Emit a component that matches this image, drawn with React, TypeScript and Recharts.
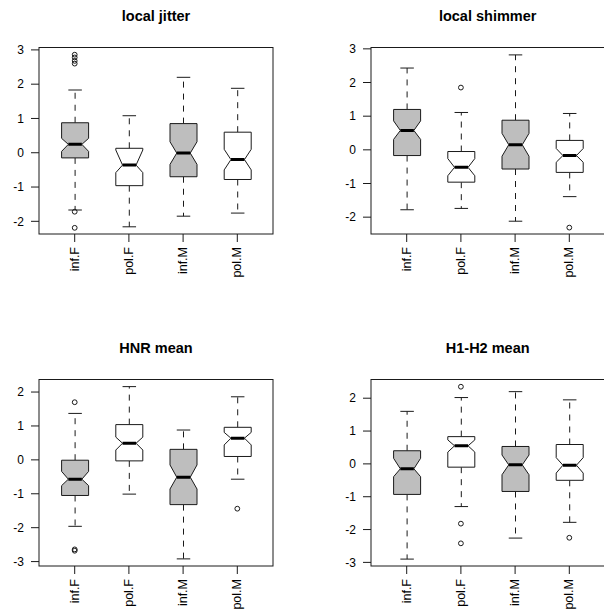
import React from 'react';
import { ComposedChart, Bar, Scatter, XAxis, YAxis } from 'recharts';

const categories = ['inf.F', 'pol.F', 'inf.M', 'pol.M'];
const boxFills = ['#bebebe', '#ffffff', '#bebebe', '#ffffff'];

// ---- local jitter ----
const jitterWhiskerLow = [-1.67, -2.16, -1.85, -1.76];
const jitterQ1 = [-0.15, -0.96, -0.7, -0.78];
const jitterNotchLow = [0.04, -0.58, -0.34, -0.5];
const jitterMedian = [0.245, -0.36, -0.01, -0.2];
const jitterNotchHigh = [0.42, 0.08, 0.32, 0.1];
const jitterQ3 = [0.875, 0.13, 0.85, 0.6];
const jitterWhiskerHigh = [1.83, 1.08, 2.2, 1.88];
const jitterOutliers = [[2.86, 2.78, 2.68, 2.6, -1.72, -2.19], [], [], []];

// ---- local shimmer ----
const shimmerWhiskerLow = [-1.78, -1.74, -2.12, -1.39];
const shimmerQ1 = [-0.17, -0.96, -0.57, -0.67];
const shimmerNotchLow = [0.31, -0.77, -0.19, -0.37];
const shimmerMedian = [0.575, -0.52, 0.15, -0.17];
const shimmerNotchHigh = [0.86, -0.26, 0.49, 0.04];
const shimmerQ3 = [1.2, -0.05, 0.88, 0.28];
const shimmerWhiskerHigh = [2.43, 1.11, 2.82, 1.08];
const shimmerOutliers = [[], [1.85], [], [-2.31]];

// ---- HNR mean ----
const hnrWhiskerLow = [-1.96, -1.01, -2.92, -0.57];
const hnrQ1 = [-1.05, -0.03, -1.32, 0.1];
const hnrNotchLow = [-0.76, 0.29, -0.86, 0.44];
const hnrMedian = [-0.57, 0.49, -0.51, 0.64];
const hnrNotchHigh = [-0.34, 0.67, -0.15, 0.81];
const hnrQ3 = [-0.01, 1.04, 0.31, 0.96];
const hnrWhiskerHigh = [1.37, 2.16, 0.88, 1.86];
const hnrOutliers = [[1.7, -2.64, -2.68], [], [], [-1.44]];

// ---- H1-H2 mean ----
const h1h2WhiskerLow = [-2.9, -1.3, -2.26, -1.78];
const h1h2Q1 = [-0.93, -0.1, -0.84, -0.5];
const h1h2NotchLow = [-0.39, 0.36, -0.33, -0.28];
const h1h2Median = [-0.15, 0.55, -0.03, -0.04];
const h1h2NotchHigh = [0.17, 0.73, 0.27, 0.19];
const h1h2Q3 = [0.4, 0.83, 0.53, 0.59];
const h1h2WhiskerHigh = [1.6, 2.02, 2.2, 1.95];
const h1h2Outliers = [[], [2.35, -1.82, -2.42], [], [-2.25]];

const yTicksTop = [-2, -1, 0, 1, 2, 3];
const yTicksBottom = [-3, -2, -1, 0, 1, 2];

const OUT_KEYS = ['o0', 'o1', 'o2', 'o3', 'o4', 'o5'];

function buildRows(
  wLo: number[], q1: number[], nLo: number[], med: number[],
  nHi: number[], q3: number[], wHi: number[], out: number[][]
) {
  return categories.map((name, i) => {
    const row: any = {
      name, wLo: wLo[i], q1: q1[i], nLo: nLo[i], med: med[i],
      nHi: nHi[i], q3: q3[i], wHi: wHi[i], fill: boxFills[i],
    };
    OUT_KEYS.forEach((k, j) => {
      row[k] = out[i][j] !== undefined ? out[i][j] : null;
    });
    return row;
  });
}

const panels = [
  {
    title: 'local jitter', left: 0, top: 0, domain: [-2.37, 3.07], ticks: yTicksTop,
    rows: buildRows(jitterWhiskerLow, jitterQ1, jitterNotchLow, jitterMedian, jitterNotchHigh, jitterQ3, jitterWhiskerHigh, jitterOutliers),
  },
  {
    title: 'local shimmer', left: 331.7, top: 0, domain: [-2.5, 3.04], ticks: yTicksTop,
    rows: buildRows(shimmerWhiskerLow, shimmerQ1, shimmerNotchLow, shimmerMedian, shimmerNotchHigh, shimmerQ3, shimmerWhiskerHigh, shimmerOutliers),
  },
  {
    title: 'HNR mean', left: 0, top: 332, domain: [-3.13, 2.37], ticks: yTicksBottom,
    rows: buildRows(hnrWhiskerLow, hnrQ1, hnrNotchLow, hnrMedian, hnrNotchHigh, hnrQ3, hnrWhiskerHigh, hnrOutliers),
  },
  {
    title: 'H1-H2 mean', left: 331.7, top: 332, domain: [-3.11, 2.57], ticks: yTicksBottom,
    rows: buildRows(h1h2WhiskerLow, h1h2Q1, h1h2NotchLow, h1h2Median, h1h2NotchHigh, h1h2Q3, h1h2WhiskerHigh, h1h2Outliers),
  },
];

const FONT = '"Liberation Sans", Arial, Helvetica, sans-serif';
const LINE = '#1a1a1a';

const PLOT = { left: 39, top: 47.5, width: 234, height: 186.5 };

const BoxShape = (props: any) => {
  const { x, y, width, height, payload } = props;
  if (!payload || !Number.isFinite(y) || !Number.isFinite(height)) return null;
  const top = Math.min(y, y + height);
  const h = Math.abs(height);
  const k = h / (payload.wHi - payload.wLo);
  const Y = (v: number) => top + (payload.wHi - v) * k;
  const cx = x + width / 2;
  const L = x;
  const R = x + width;
  const inset = width / 4;
  const cap = width / 4;
  const pts = [
    [L, Y(payload.q3)], [R, Y(payload.q3)], [R, Y(payload.nHi)], [R - inset, Y(payload.med)],
    [R, Y(payload.nLo)], [R, Y(payload.q1)], [L, Y(payload.q1)], [L, Y(payload.nLo)],
    [L + inset, Y(payload.med)], [L, Y(payload.nHi)],
  ].map((p) => p.join(',')).join(' ');
  return (
    <g>
      <line x1={cx} x2={cx} y1={Y(payload.q3)} y2={Y(payload.wHi)} stroke={LINE} strokeDasharray="6 6" />
      <line x1={cx} x2={cx} y1={Y(payload.q1)} y2={Y(payload.wLo)} stroke={LINE} strokeDasharray="6 6" />
      <line x1={cx - cap} x2={cx + cap} y1={Y(payload.wHi)} y2={Y(payload.wHi)} stroke={LINE} />
      <line x1={cx - cap} x2={cx + cap} y1={Y(payload.wLo)} y2={Y(payload.wLo)} stroke={LINE} />
      <polygon points={pts} fill={payload.fill} stroke={LINE} strokeWidth={1} />
      <line x1={L + inset} x2={R - inset} y1={Y(payload.med)} y2={Y(payload.med)} stroke="#000" strokeWidth={3} />
    </g>
  );
};

const makeOutlierShape = (key: string) => (props: any) => {
  const { cx, cy, payload } = props;
  if (!payload || payload[key] === null || payload[key] === undefined) return <g />;
  if (!Number.isFinite(cx) || !Number.isFinite(cy)) return <g />;
  return <circle cx={cx} cy={cy} r={2.4} fill="none" stroke={LINE} strokeWidth={1} />;
};

const XTick = (props: any) => {
  const { x, y, payload } = props;
  return (
    <text
      transform={`translate(${x},${y}) rotate(-90)`}
      x={-5}
      y={0}
      textAnchor="end"
      dominantBaseline="central"
      fontSize={12.5}
      fontFamily={FONT}
      fill="#000"
    >
      {payload.value}
    </text>
  );
};

const Panel = ({ p }: { p: any }) => (
  <div style={{ position: 'absolute', left: p.left, top: p.top, width: 302, height: 300 }}>
    <div
      style={{
        position: 'absolute', left: 39, top: 7, width: 234, textAlign: 'center',
        fontFamily: FONT, fontWeight: 'bold', fontSize: 14.5, lineHeight: '18px', color: '#000',
      }}
    >
      {p.title}
    </div>
    <ComposedChart
      width={302}
      height={300}
      data={p.rows}
      margin={{ top: PLOT.top, right: 302 - PLOT.left - PLOT.width, bottom: 0, left: 9 }}
      style={{ position: 'absolute', left: 0, top: 0 }}
    >
      <XAxis
        xAxisId="b"
        dataKey="name"
        type="category"
        padding={{ left: 8.6, right: 8.6 }}
        height={300 - PLOT.top - PLOT.height}
        tickSize={8}
        tickMargin={0}
        tick={<XTick />}
        interval={0}
        axisLine={false}
        tickLine={{ stroke: LINE }}
      />
      <YAxis
        yAxisId="l"
        type="number"
        domain={p.domain}
        ticks={p.ticks}
        allowDataOverflow
        width={30}
        tickSize={8}
        tickMargin={7}
        axisLine={false}
        tickLine={{ stroke: LINE }}
        tick={{ fontSize: 12, fontFamily: FONT, fill: '#000' }}
        interval={0}
      />
      <Bar
        xAxisId="b"
        yAxisId="l"
        dataKey={(d: any) => [d.wLo, d.wHi]}
        barSize={27}
        shape={BoxShape}
        isAnimationActive={false}
      />
      {OUT_KEYS.map((k) => (
        <Scatter
          key={k}
          xAxisId="b"
          yAxisId="l"
          dataKey={k}
          shape={makeOutlierShape(k)}
          isAnimationActive={false}
        />
      ))}
    </ComposedChart>
    <svg
      width={302}
      height={300}
      style={{ position: 'absolute', left: 0, top: 0, pointerEvents: 'none', overflow: 'visible' }}
    >
      <rect
        x={PLOT.left}
        y={PLOT.top}
        width={PLOT.width}
        height={PLOT.height}
        fill="none"
        stroke={LINE}
        strokeWidth={1}
      />
    </svg>
  </div>
);

export default function App() {
  return (
    <div
      style={{
        position: 'absolute', left: 0, top: 0, width: 604, height: 611,
        overflow: 'hidden', background: '#fff',
      }}
    >
      {panels.map((p) => (
        <Panel key={p.title} p={p} />
      ))}
    </div>
  );
}
